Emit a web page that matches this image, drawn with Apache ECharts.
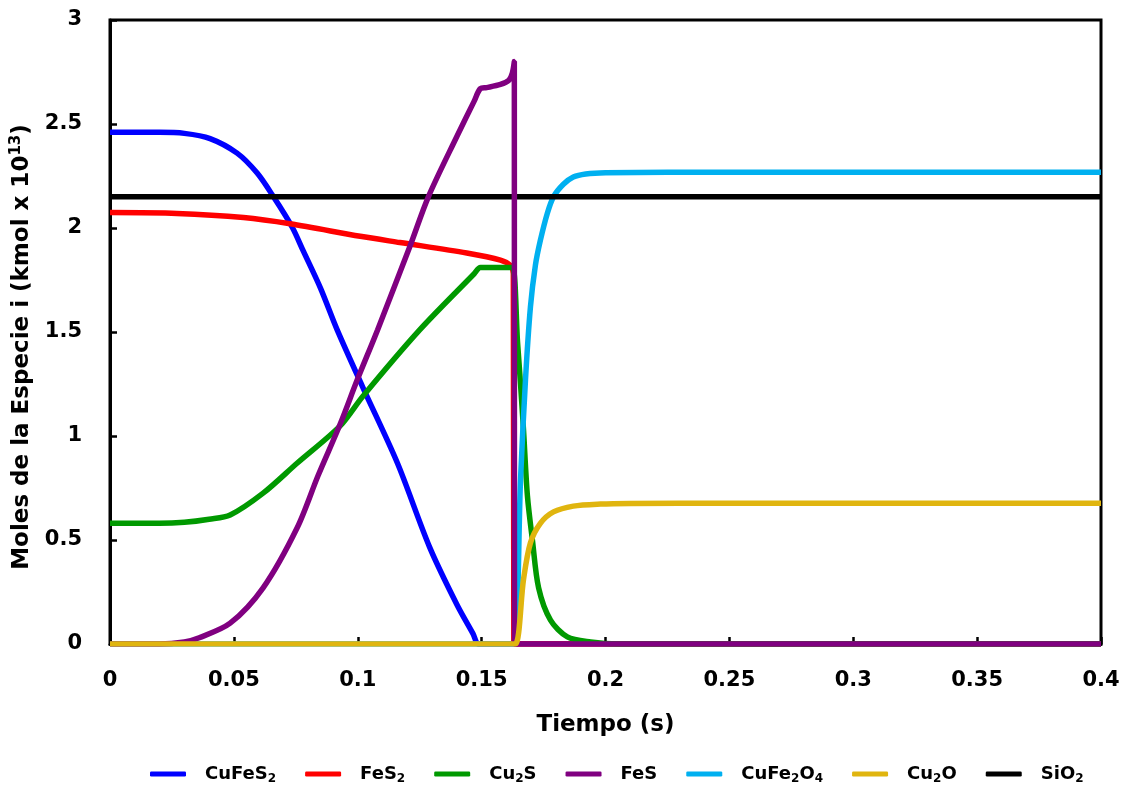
<!DOCTYPE html>
<html>
<head>
<meta charset="utf-8">
<script src="https://cdn.jsdelivr.net/npm/echarts@6/dist/echarts.min.js"></script>
<style>
  html, body { margin: 0; padding: 0; background: #ffffff; }
  #main { width: 1126px; height: 792px; }
</style>
</head>
<body>
<div id="main"></div>
<script>
// [tiempo (s), moles]
const cuFeS2 = [
  [0, 2.46], [0.02, 2.46], [0.03, 2.455], [0.0404, 2.43], [0.0513, 2.36], [0.0594, 2.264],
  [0.066, 2.15], [0.0735, 2.005], [0.078, 1.89], [0.085, 1.71], [0.0917, 1.51], [0.102, 1.235],
  [0.116, 0.87], [0.129, 0.466], [0.14, 0.19], [0.1465, 0.05], [0.1487, 0], [0.152, 0],
  [0.16, 0], [0.4, 0]
];
const feS2 = [
  [0, 2.074], [0.027, 2.07], [0.0539, 2.05], [0.0727, 2.02], [0.101, 1.96], [0.117, 1.93],
  [0.144, 1.88], [0.1576, 1.846], [0.1616, 1.82], [0.1628, 1.78], [0.163, 0], [0.1635, 0],
  [0.17, 0], [0.4, 0]
];
const cu2S = [
  [0, 0.58], [0.02, 0.58], [0.03, 0.585], [0.04, 0.6], [0.0485, 0.62], [0.0618, 0.725],
  [0.0756, 0.87], [0.093, 1.05], [0.102, 1.19], [0.125, 1.51], [0.147, 1.78], [0.1495, 1.81],
  [0.152, 1.81], [0.16, 1.81], [0.1625, 1.81], [0.1645, 1.45], [0.1657, 1.25], [0.1669, 1.03],
  [0.1685, 0.71], [0.1705, 0.5], [0.173, 0.27], [0.1778, 0.115], [0.1846, 0.034], [0.194, 0.01],
  [0.205, 0], [0.22, 0], [0.4, 0]
];
const feS = [
  [0, 0], [0.01, 0], [0.02, 0], [0.03, 0.01], [0.036, 0.03], [0.0485, 0.1], [0.0618, 0.27],
  [0.0756, 0.56], [0.084, 0.81], [0.093, 1.06], [0.0998, 1.27], [0.108, 1.51], [0.121, 1.91],
  [0.1285, 2.15], [0.14, 2.44], [0.147, 2.61], [0.1495, 2.67], [0.152, 2.675], [0.1576, 2.69],
  [0.161, 2.71], [0.1624, 2.745], [0.1632, 2.8], [0.16325, 0], [0.1634, 0], [0.17, 0], [0.4, 0]
];
const cuFe2O4 = [
  [0, 0], [0.16, 0], [0.1632, 0], [0.1657, 0.79], [0.1677, 1.27], [0.1697, 1.62], [0.1717, 1.82],
  [0.1737, 1.94], [0.1765, 2.07], [0.179, 2.15], [0.183, 2.21], [0.187, 2.245], [0.192, 2.26],
  [0.2, 2.266], [0.25, 2.268], [0.4, 2.268]
];
const cu2O = [
  [0, 0], [0.16, 0], [0.1636, 0], [0.1669, 0.31], [0.1697, 0.486], [0.1737, 0.58], [0.179, 0.635],
  [0.187, 0.663], [0.198, 0.673], [0.21, 0.676], [0.25, 0.677], [0.4, 0.677]
];
const siO2 = [[0, 2.15], [0.4, 2.15]];

const seriesNames = ['CuFeS2', 'FeS2', 'Cu2S', 'FeS', 'CuFe2O4', 'Cu2O', 'SiO2'];
const labels = {
  'CuFeS2': 'CuFeS{sub|2}',
  'FeS2': 'FeS{sub|2}',
  'Cu2S': 'Cu{sub|2}S',
  'FeS': 'FeS',
  'CuFe2O4': 'CuFe{sub|2}O{sub|4}',
  'Cu2O': 'Cu{sub|2}O',
  'SiO2': 'SiO{sub|2}'
};

const font = 'DejaVu Sans';

function line(name, data, color, z) {
  return {
    name: name, type: 'line', data: data, showSymbol: false, symbol: 'none',
    smooth: 0.3,
    lineStyle: { color: color, width: 5.5 }, itemStyle: { color: color },
    z: z, animation: false
  };
}

const chart = echarts.init(document.getElementById('main'));
chart.setOption({
  backgroundColor: '#ffffff',
  animation: false,
  grid: {
    left: 110, right: 25, top: 20, bottom: 148,
    show: true, borderColor: '#000', borderWidth: 3
  },
  legend: {
    top: 760,
    left: 145,
    itemWidth: 36,
    itemHeight: 5,
    itemGap: 29,
    icon: 'roundRect',
    data: seriesNames,
    formatter: function (n) { return labels[n]; },
    textStyle: {
      fontFamily: font, fontWeight: 'bold', fontSize: 18, color: '#000',
      padding: [0, 0, 0, 14],
      rich: {
        sub: { fontFamily: font, fontWeight: 'bold', fontSize: 12, color: '#000', padding: [10, 0, 0, 0] }
      }
    }
  },
  xAxis: {
    type: 'value', min: 0, max: 0.4, interval: 0.05,
    name: 'Tiempo (s)', nameLocation: 'middle', nameGap: 70,
    nameTextStyle: { fontFamily: font, fontWeight: 'bold', fontSize: 23, color: '#000' },
    axisLine: { show: true, lineStyle: { color: '#000', width: 3 } },
    axisTick: { show: true, inside: true, length: 7, lineStyle: { color: '#000', width: 2.5 } },
    axisLabel: { fontFamily: font, fontWeight: 'bold', fontSize: 21, color: '#000', margin: 26 },
    splitLine: { show: false }
  },
  yAxis: {
    type: 'value', min: 0, max: 3, interval: 0.5,
    name: '{t|Moles de la Especie i (kmol x 10}{sup|13}{t|)}',
    nameLocation: 'middle', nameGap: 66, nameRotate: 90,
    nameTextStyle: {
      fontFamily: font, fontWeight: 'bold', fontSize: 23, color: '#000',
      padding: [0, 30, 0, 0],
      rich: {
        t: { fontFamily: font, fontWeight: 'bold', fontSize: 23, color: '#000' },
        sup: { fontFamily: font, fontWeight: 'bold', fontSize: 15, color: '#000', padding: [0, 0, 12, 0] }
      }
    },
    axisLine: { show: true, lineStyle: { color: '#000', width: 3 } },
    axisTick: { show: true, inside: true, length: 7, lineStyle: { color: '#000', width: 2.5 } },
    axisLabel: { fontFamily: font, fontWeight: 'bold', fontSize: 21, color: '#000', margin: 28 },
    splitLine: { show: false }
  },
  series: [
    line('CuFeS2', cuFeS2, '#0000FF', 2),
    line('FeS2', feS2, '#FF0000', 3),
    line('Cu2S', cu2S, '#009900', 4),
    line('CuFe2O4', cuFe2O4, '#00B0F0', 5),
    line('SiO2', siO2, '#000000', 6),
    line('FeS', feS, '#800080', 7),
    line('Cu2O', cu2O, '#E0B50F', 8)
  ]
});
</script>
</body>
</html>
